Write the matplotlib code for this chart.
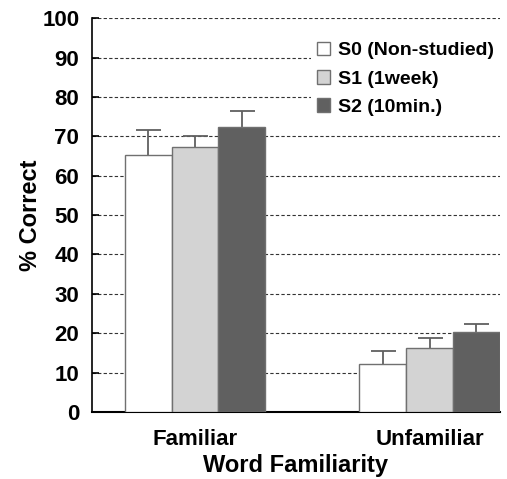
import numpy as np
import matplotlib.pyplot as plt

groups = ['Familiar', 'Unfamiliar']
series = ['S0 (Non-studied)', 'S1 (1week)', 'S2 (10min.)']
means = [[65.3, 12.2], [67.3, 16.3], [72.4, 20.4]]
errs = [[6.2, 3.2], [2.7, 2.6], [4.0, 2.0]]
colors = ['#ffffff', '#d3d3d3', '#606060']

plt.rcParams['font.family'] = ['Liberation Sans', 'DejaVu Sans']
plt.rcParams['font.weight'] = 'bold'

fig = plt.figure(figsize=(5.07, 4.79), dpi=100)
ax = fig.add_axes([0.181, 0.140, 0.805, 0.822])

x = np.arange(len(groups))
w = 0.2
for i, s in enumerate(series):
    ax.bar(x + (i - 1) * w, means[i], w, color=colors[i], edgecolor='#707070',
           linewidth=1, label=s, zorder=3)
    # symmetric bars drawn behind, so only the upper half shows
    ax.errorbar(x + (i - 1) * w, means[i], yerr=errs[i], fmt='none',
                ecolor='#606060', elinewidth=1.3, capsize=9, capthick=1.3, zorder=2)

ax.set_ylim(0, 100)
ax.set_xlim(-0.44, 1.30)
ax.set_yticks(range(0, 101, 10))
ax.yaxis.grid(True, linestyle=(0, (3, 2)), color='#333333', linewidth=0.8, zorder=0)
ax.set_axisbelow(True)
ax.set_xticks(x)
ax.set_xticklabels(groups, fontsize=16, fontweight='bold')
ax.tick_params(axis='x', length=0, pad=12)
ax.tick_params(axis='y', labelsize=16, length=5, width=1.2, direction='in', pad=9)
for lab in ax.get_yticklabels():
    lab.set_fontweight('bold')
ax.spines['top'].set_visible(False)
ax.spines['right'].set_visible(False)
ax.spines['left'].set_linewidth(1.2)
ax.spines['bottom'].set_linewidth(1.5)

ax.set_ylabel('% Correct', fontsize=17, fontweight='bold', labelpad=0)
ax.set_xlabel('Word Familiarity', fontsize=17, fontweight='bold', labelpad=3)

leg = ax.legend(loc='upper right', bbox_to_anchor=(1.0, 0.955), frameon=True,
                fontsize=14, handlelength=0.7, handleheight=0.7, handletextpad=0.4,
                labelspacing=0.55, borderaxespad=0.0, borderpad=0.3,
                edgecolor='none', facecolor='white', framealpha=1)
for t in leg.get_texts():
    t.set_fontweight('bold')

fig.savefig('out.png', dpi=100)
